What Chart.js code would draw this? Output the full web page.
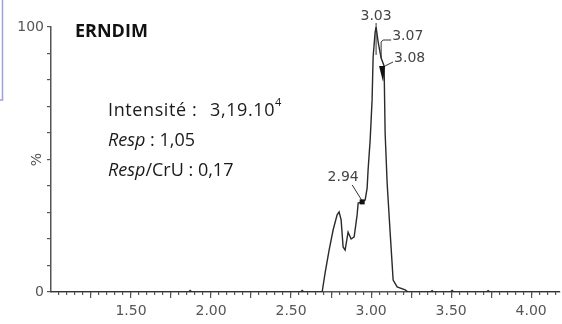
<!DOCTYPE html>
<html><head><meta charset="utf-8">
<script src="https://cdn.jsdelivr.net/npm/chart.js@4.4.1/dist/chart.umd.min.js"></script>
<style>html,body{margin:0;padding:0;background:#fff;overflow:hidden}#wrap{position:relative;width:562px;height:324px}</style>
</head><body><div id="wrap"><canvas id="c" width="562" height="324"></canvas></div>
<script>
// Retention time (min) and relative intensity (%)
const retentionTimes = [1.00, 1.86, 1.869, 1.88, 2.56, 2.569, 2.58, 2.694, 2.7125, 2.7375, 2.7625, 2.7875, 2.80, 2.8125, 2.825, 2.8375, 2.856, 2.875, 2.894, 2.9125, 2.919, 2.944, 2.9625, 2.975, 2.981, 2.994, 3.006, 3.0125, 3.025, 3.031, 3.044, 3.0625, 3.081, 3.0875, 3.10, 3.119, 3.1375, 3.1625, 3.2125, 3.231, 3.37, 3.381, 3.39, 3.495, 3.506, 3.517, 3.72, 3.731, 3.742, 4.18];
const intensities    = [0, 0, 0.6, 0, 0, 0.6, 0, 0, 7.2, 15.8, 23.4, 29.1, 30.2, 27.2, 17.0, 15.8, 22.6, 20.0, 20.8, 29.1, 33.6, 34.0, 34.7, 39.2, 46.0, 57.4, 72.5, 88.7, 98.1, 100, 94.3, 88.3, 85.3, 60.0, 41.1, 22.3, 4.5, 1.9, 0.8, 0, 0, 0.5, 0, 0, 0.6, 0, 0, 0.5, 0, 0];
const xTickLabels = ['1.50', '2.00', '2.50', '3.00', '3.50', '4.00'];
const yTickLabels = ['0', '100'];
const peakLabels = ['2.94', '3.03', '3.07', '3.08'];
const peakTimes  = [2.944, 3.031, 3.0625, 3.081];
const peakValues = [34.0, 100, 88.3, 85.3];
const titleText = 'ERNDIM';
const yTitle = '%';

const FONT_AX = 'DejaVu Sans';
const FONT_TX = 'Open Sans';
const TXT = '#555';

function range(a, b, step) { const out = []; for (let v = a; v <= b + 1e-9; v += step) out.push(Math.round(v * 100) / 100); return out; }

const annot = {
  id: 'annot',
  afterDraw(chart) {
    const ctx = chart.ctx, xs = chart.scales.x, ys = chart.scales.y;
    ctx.save();
    // framing line at top-left
    ctx.strokeStyle = '#a0a0d8'; ctx.lineWidth = 1.5;
    ctx.beginPath(); ctx.moveTo(2.5, 0); ctx.lineTo(2.5, 100); ctx.lineTo(0, 100); ctx.stroke();
    // y title
    ctx.fillStyle = TXT; ctx.font = '14px "' + FONT_AX + '"';
    ctx.textAlign = 'center'; ctx.textBaseline = 'middle';
    ctx.save(); ctx.translate(37, ys.getPixelForValue(50)); ctx.rotate(-Math.PI / 2); ctx.fillText(yTitle, 0, 0); ctx.restore();
    // title
    ctx.fillStyle = '#111'; ctx.font = 'bold 18px "' + FONT_TX + '"'; ctx.textAlign = 'left';
    ctx.fillText(titleText, 75, 32);
    // info block
    ctx.fillStyle = '#1a1a1a';
    const x = 108;
    ctx.font = '18px "' + FONT_TX + '"';
    ctx.save();
    ctx.letterSpacing = '0.6px';
    ctx.fillText('Intensité :', x, 111);
    ctx.fillText('3,19.10', 210, 111);
    let w = ctx.measureText('3,19.10').width;
    ctx.restore();
    ctx.font = '11px "' + FONT_TX + '"'; ctx.fillText('4', 210 + w, 103);
    ctx.font = 'italic 18px "' + FONT_TX + '"'; ctx.fillText('Resp', x, 141);
    w = ctx.measureText('Resp').width;
    ctx.font = '18px "' + FONT_TX + '"'; ctx.fillText(' : 1,05', x + w, 141);
    ctx.font = 'italic 18px "' + FONT_TX + '"'; ctx.fillText('Resp', x, 171);
    ctx.font = '18px "' + FONT_TX + '"'; ctx.fillText('/CrU : 0,17', x + w, 171);
    // peak annotations
    ctx.strokeStyle = '#333'; ctx.fillStyle = '#444'; ctx.lineWidth = 1;
    ctx.font = '14px "' + FONT_AX + '"';
    peakLabels.forEach((lab, i) => {
      const px = xs.getPixelForValue(peakTimes[i]), py = ys.getPixelForValue(peakValues[i]);
      ctx.beginPath();
      if (i === 0) {
        ctx.textAlign = 'center'; ctx.fillText(lab, px - 19, py - 25);
        ctx.moveTo(px - 10, py - 17); ctx.lineTo(px, py - 1); ctx.stroke();
        ctx.fillStyle = '#111'; ctx.fillRect(px - 2.5, py - 2.5, 5, 5); ctx.fillStyle = '#444';
      } else if (i === 1) {
        ctx.textAlign = 'center'; ctx.fillText(lab, px, py - 11);
        ctx.moveTo(px, py - 4); ctx.lineTo(px, py + 28); ctx.stroke();
      } else if (i === 2) {
        ctx.textAlign = 'left'; ctx.fillText(lab, px + 11, py - 22);
        ctx.moveTo(px + 10, py - 18); ctx.lineTo(px + 2, py - 18); ctx.lineTo(px, py - 16); ctx.lineTo(px, py); ctx.stroke();
      } else {
        ctx.textAlign = 'left'; ctx.fillText(lab, px + 10, py - 8);
        ctx.moveTo(px + 9, py - 4); ctx.lineTo(px + 1, py); ctx.stroke();
        ctx.fillStyle = '#111';
        ctx.beginPath(); ctx.moveTo(px - 5, py); ctx.lineTo(px + 1, py); ctx.lineTo(px - 1, py + 16); ctx.closePath(); ctx.fill();
        ctx.fillStyle = '#444';
      }
    });
    ctx.restore();
  }
};

new Chart(document.getElementById('c'), {
  type: 'line',
  data: {
    datasets: [{
      data: retentionTimes.map((t, i) => ({ x: t, y: intensities[i] })),
      borderColor: '#2a2a2a', borderWidth: 1.4, pointRadius: 0, fill: false, tension: 0
    }]
  },
  options: {
    responsive: false, animation: false, devicePixelRatio: 1,
    layout: { padding: { top: 27, right: 2, left: 0, bottom: 0 } },
    plugins: { legend: { display: false }, tooltip: { enabled: false } },
    scales: {
      xMinor: {
        type: 'linear', position: 'bottom', weight: 0, min: 1.0, max: 4.18,
        afterBuildTicks: s => { s.ticks = range(1.05, 4.15, 0.05).map(v => ({ value: v })); },
        ticks: { display: false },
        grid: { drawOnChartArea: false, drawTicks: true, tickLength: 3, color: '#555', lineWidth: 1.2 },
        border: { display: false },
        afterFit: s => { s.height = 0; }
      },
      x: {
        type: 'linear', position: 'bottom', weight: 1, min: 1.0, max: 4.18,
        afterBuildTicks: s => { s.ticks = range(1.25, 4.0, 0.25).map(v => ({ value: v })); },
        ticks: {
          autoSkip: false, maxRotation: 0, minRotation: 0, padding: 5, color: TXT,
          font: { family: FONT_AX, size: 14 },
          callback: v => { const l = v.toFixed(2); return xTickLabels.includes(l) ? l : ''; }
        },
        grid: { drawOnChartArea: false, drawTicks: true, tickLength: 6, color: '#555', lineWidth: 1.2 },
        border: { display: true, color: '#555', width: 1.5 },
        afterFit: s => { s.height = 32; }
      },
      y: {
        type: 'linear', min: 0, max: 100,
        afterBuildTicks: s => { s.ticks = range(0, 100, 10).map(v => ({ value: v })); },
        ticks: {
          padding: 3, color: TXT, font: { family: FONT_AX, size: 14 },
          callback: v => { const l = String(Math.round(v)); return yTickLabels.includes(l) ? l : ''; }
        },
        grid: { drawOnChartArea: false, drawTicks: true, tickLength: 4, color: '#555', lineWidth: 1.2 },
        border: { display: true, color: '#555', width: 1.5 },
        afterFit: s => { s.width = 51; }
      }
    }
  },
  plugins: [annot]
});
</script>
</body></html>
